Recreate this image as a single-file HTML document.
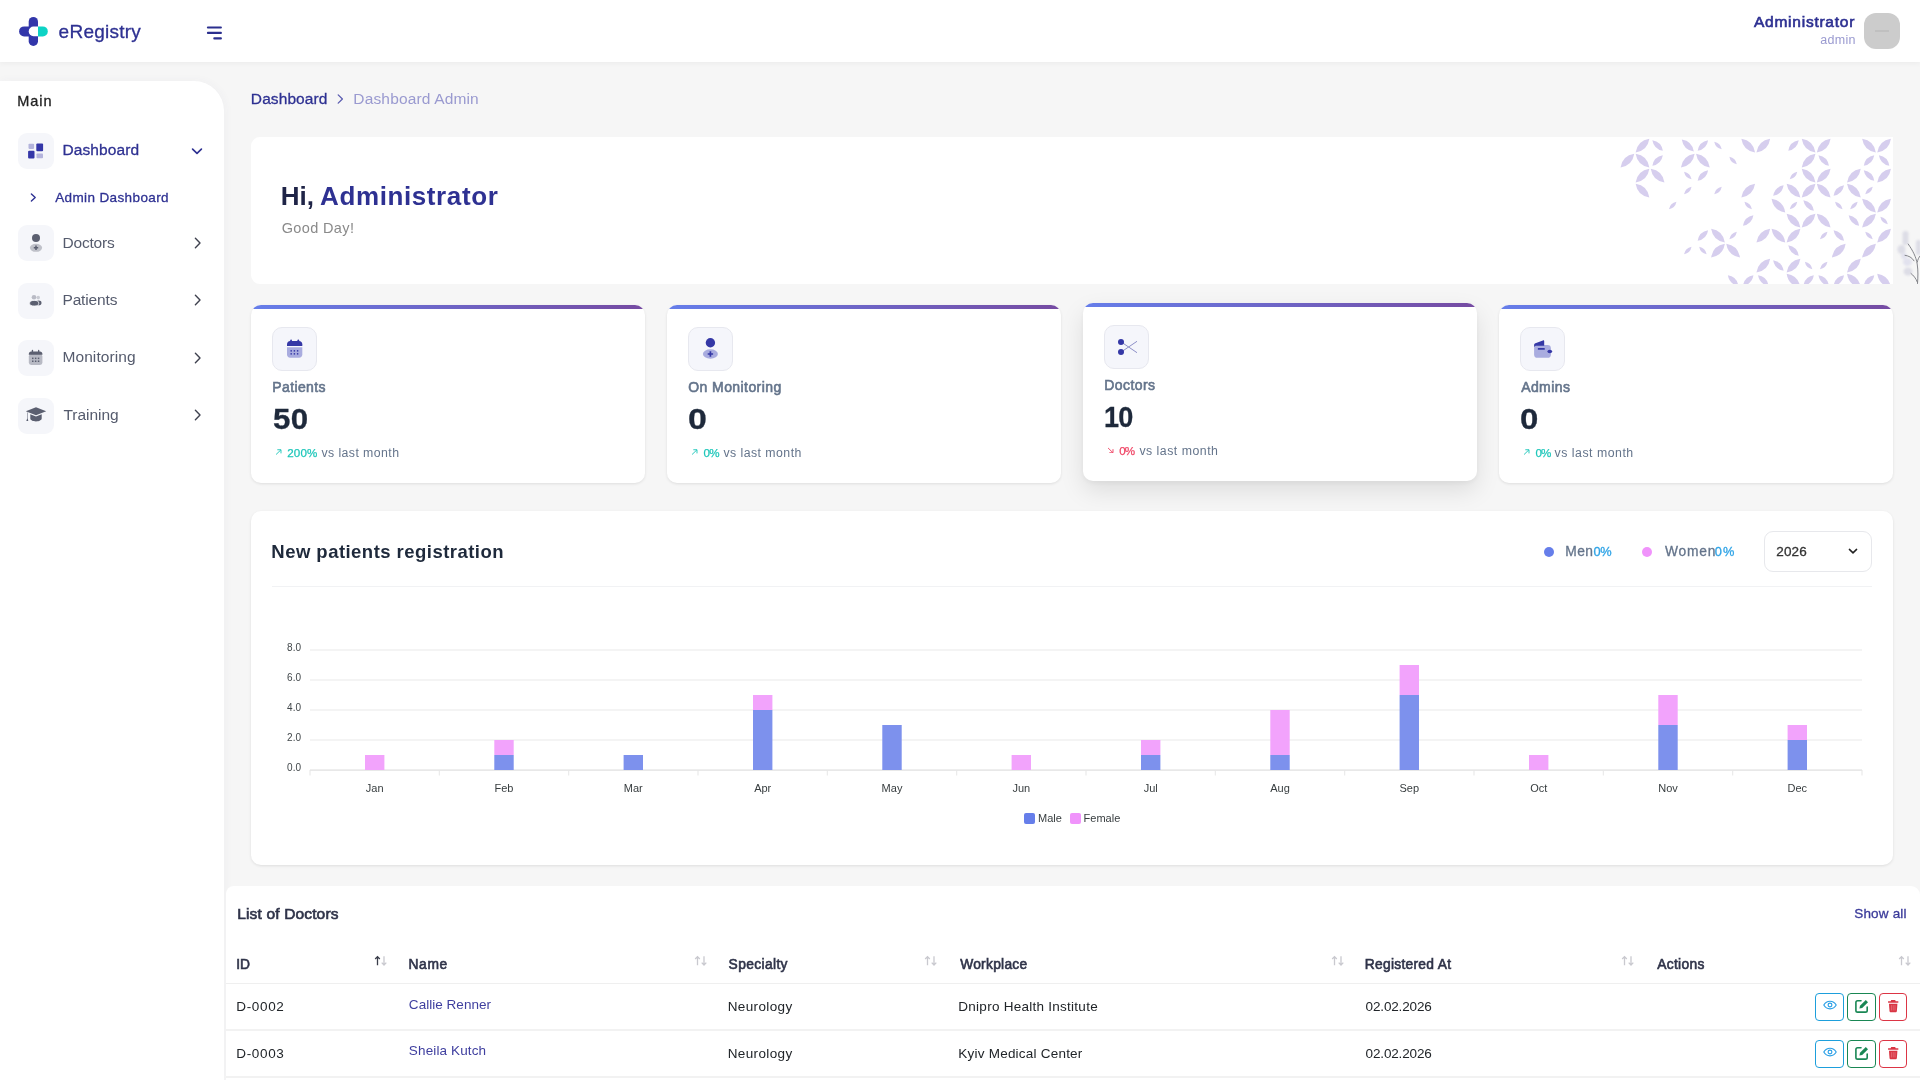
<!DOCTYPE html>
<html lang="en">
<head>
<meta charset="utf-8">
<title>eRegistry - Dashboard Admin</title>
<style>
*{box-sizing:border-box}
html,body{margin:0;padding:0}
html{width:1920px;height:1080px;overflow:hidden}
body{width:1920px;height:1080px;overflow:hidden;position:relative;will-change:transform;background:#f6f6f6;font-family:"Liberation Sans",sans-serif;color:#212529}
.abs{position:absolute}
.t{position:absolute;white-space:nowrap;line-height:1;margin:0;padding:0}
.b{font-weight:bold}
#hdr{left:0;top:0;width:1920px;height:62px;background:#fff;box-shadow:0 2px 5px rgba(0,0,0,.04)}
#side{left:0;top:81px;width:224px;height:999px;background:#fff;border-top-right-radius:30px;box-shadow:1px 0 10px rgba(60,60,110,.045)}
.ibox{position:absolute;left:18px;width:36px;height:36px;border-radius:9px;background:#f5f6fa}
.card{position:absolute;background:#fff;border-radius:10px;box-shadow:0 1px 3px rgba(0,0,0,.10)}
.stat{width:394px;height:178px;overflow:hidden}
.stat:before{content:"";position:absolute;left:0;top:0;right:0;height:4px;background:linear-gradient(90deg,#667eea,#764ba2)}
.sbox{position:absolute;left:21px;top:22px;width:45px;height:44px;border-radius:10px;background:#f5f6fb;border:1px solid #e7e8ef}
.btn{position:absolute;width:28px;height:28px;border-radius:4px;border:1px solid;background:#fff}
.hl{position:absolute;height:1px;background:#eeeeee}
</style>
</head>
<body>

<!-- ===== header ===== -->
<div id="hdr" class="abs"></div>
<svg class="abs" style="left:18px;top:16px" width="31" height="31" viewBox="18 16 31 31">
  <rect x="28.7" y="16.9" width="9.3" height="29" rx="4.65" fill="#3236aa"/>
  <rect x="19.1" y="26.4" width="18.9" height="10" rx="5" fill="#3236aa"/>
  <path d="M38 26.4h4.8a5 5 0 0 1 0 10H38z" fill="#0dd3c5"/>
  <path d="M38 26.6h-4.5a4.8 4.8 0 0 0 0 9.6H38z" fill="#fff"/>
</svg>
<svg class="abs" style="left:205px;top:24px" width="20" height="18" viewBox="205 24 20 18">
  <g stroke="#2b2f8e" stroke-width="2.1" stroke-linecap="round">
    <line x1="207.9" y1="27.5" x2="220.9" y2="27.5"/><line x1="207.9" y1="32.9" x2="220.9" y2="32.9"/><line x1="214.3" y1="38.4" x2="220.9" y2="38.4"/>
  </g>
</svg>
<div class="abs" style="left:1864px;top:13px;width:36px;height:36px;border-radius:12px;background:#cccccc"></div>
<div class="abs" style="left:1875px;top:30px;width:14px;height:2px;background:#c0c0c0"></div>

<!-- ===== sidebar ===== -->
<div id="side" class="abs"></div>
<div class="ibox" style="top:133px"></div>
<div class="ibox" style="top:225px"></div>
<div class="ibox" style="top:283px"></div>
<div class="ibox" style="top:340px"></div>
<div class="ibox" style="top:398px"></div>
<!-- dashboard icon -->
<svg class="abs" style="left:27px;top:142px" width="18" height="18" viewBox="0 0 18 18">
  <rect x="1.5" y="1.7" width="5.6" height="5.2" rx="0.8" fill="#b4b4dc"/>
  <rect x="9.3" y="1.5" width="6.8" height="7.8" rx="1" fill="#3537a8"/>
  <rect x="1.1" y="8.7" width="6.4" height="7.9" rx="1" fill="#3537a8"/>
  <rect x="9.5" y="11.5" width="6.5" height="4.7" rx="0.8" fill="#b4b4dc"/>
</svg>
<!-- doctors icon -->
<svg class="abs" style="left:27px;top:232px" width="18" height="22" viewBox="0 0 18 22">
  <circle cx="9" cy="6" r="4" fill="#5b5f70"/>
  <ellipse cx="9" cy="15.8" rx="6.1" ry="4" fill="#bfc1c9"/>
  <path d="M9 13.6v4.4M6.8 15.8h4.4" stroke="#5b5f70" stroke-width="1.5"/>
</svg>
<!-- patients icon -->
<svg class="abs" style="left:28px;top:293px" width="16" height="16" viewBox="0 0 16 16">
  <circle cx="6" cy="4.2" r="2.3" fill="#b9bbc5"/>
  <circle cx="10.2" cy="4.6" r="1.8" fill="#c9cbd3"/>
  <ellipse cx="10.6" cy="9.9" rx="2.9" ry="2.3" fill="#5b5f70"/>
  <ellipse cx="6.2" cy="10.2" rx="4.6" ry="2.8" fill="#5b5f70" stroke="#f5f6fa" stroke-width=".8"/>
</svg>
<!-- monitoring (calendar) icon -->
<svg class="abs" style="left:28px;top:349px" width="16" height="18" viewBox="0 0 16 18">
  <rect x="0.8" y="5" width="13.6" height="11" rx="2.4" fill="#b8bac4"/>
  <path d="M3.2 2.6h8.8c1.4 0 2.4 1 2.4 2.4v.7H.8V5c0-1.4 1-2.4 2.4-2.4z" fill="#5b5f70"/>
  <rect x="3.8" y="0.8" width="1.3" height="3" rx=".6" fill="#5b5f70"/><rect x="10" y="0.8" width="1.3" height="3" rx=".6" fill="#5b5f70"/>
  <g fill="#5b5f70"><rect x="4" y="8.6" width="1.5" height="1.5"/><rect x="6.9" y="8.6" width="1.5" height="1.5"/><rect x="9.8" y="8.6" width="1.5" height="1.5"/><rect x="4" y="11.5" width="1.5" height="1.5"/><rect x="6.9" y="11.5" width="1.5" height="1.5"/><rect x="9.8" y="11.5" width="1.5" height="1.5"/></g>
</svg>
<!-- training icon -->
<svg class="abs" style="left:25px;top:406px" width="22" height="17" viewBox="0 0 22 17">
  <path d="M11 1.2L21.2 5.2L11 9.2L.8 5.2z" fill="#5b5f70"/>
  <path d="M5.3 8.3v4.2c0 1.6 2.6 2.9 5.7 2.9s5.7-1.3 5.7-2.9V8.3L11 10.6z" fill="#5b5f70"/>
  <path d="M2.2 6.2v6.2l-.9 2.7h2l-.6-2.7V6.4z" fill="#5b5f70"/>
</svg>
<!-- chevrons -->
<svg class="abs" style="left:190px;top:146px" width="14" height="10" viewBox="0 0 14 10"><path d="M2.6 3.2L7 7.3l4.4-4.1" fill="none" stroke="#2e3192" stroke-width="1.7" stroke-linecap="round" stroke-linejoin="round"/></svg>
<svg class="abs" style="left:29px;top:192px" width="9" height="11" viewBox="0 0 9 11"><path d="M2.4 1.9L6.2 5.5 2.4 9.1" fill="none" stroke="#2e3192" stroke-width="1.4" stroke-linecap="round" stroke-linejoin="round"/></svg>
<svg class="abs" style="left:192px;top:236px" width="11" height="14" viewBox="0 0 11 14"><path d="M3.4 2.3L8 7 3.4 11.7" fill="none" stroke="#3f424f" stroke-width="1.4" stroke-linecap="round" stroke-linejoin="round"/></svg><svg class="abs" style="left:192px;top:293.2px" width="11" height="14" viewBox="0 0 11 14"><path d="M3.4 2.3L8 7 3.4 11.7" fill="none" stroke="#3f424f" stroke-width="1.4" stroke-linecap="round" stroke-linejoin="round"/></svg><svg class="abs" style="left:192px;top:351px" width="11" height="14" viewBox="0 0 11 14"><path d="M3.4 2.3L8 7 3.4 11.7" fill="none" stroke="#3f424f" stroke-width="1.4" stroke-linecap="round" stroke-linejoin="round"/></svg><svg class="abs" style="left:192px;top:408.2px" width="11" height="14" viewBox="0 0 11 14"><path d="M3.4 2.3L8 7 3.4 11.7" fill="none" stroke="#3f424f" stroke-width="1.4" stroke-linecap="round" stroke-linejoin="round"/></svg>

<!-- breadcrumb chevron -->
<svg class="abs" style="left:336px;top:93px" width="9" height="12" viewBox="0 0 9 12"><path d="M2.2 1.9L6.4 6 2.2 10.1" fill="none" stroke="#5a5cb0" stroke-width="1.3" stroke-linecap="round" stroke-linejoin="round"/></svg>

<!-- ===== welcome card ===== -->
<div class="abs" style="left:251px;top:137px;width:1642px;height:147px;background:#fff;border-radius:9px 0 0 9px;overflow:hidden">
<svg class="abs" style="left:0;top:0" width="1642" height="147" viewBox="251 137 1642 147">
<g fill="#d6ceee"><path transform="translate(1642.5 145.6) rotate(-45)" d="M-9.7 0Q0 -7.1 9.7 0Q0 7.1 -9.7 0z"/><path transform="translate(1657.6 145.6) rotate(45)" d="M-7.4 0Q0 -5.3 7.4 0Q0 5.3 -7.4 0z"/><path transform="translate(1687.8 145.6) rotate(45)" d="M-8.5 0Q0 -6.2 8.5 0Q0 6.2 -8.5 0z"/><path transform="translate(1702.9 145.6) rotate(-45)" d="M-7.4 0Q0 -5.3 7.4 0Q0 5.3 -7.4 0z"/><path transform="translate(1718 145.6) rotate(45)" d="M-5.3 0Q0 -3.6 5.3 0Q0 3.6 -5.3 0z"/><path transform="translate(1748.2 145.6) rotate(45)" d="M-9.7 0Q0 -7.1 9.7 0Q0 7.1 -9.7 0z"/><path transform="translate(1763.3 145.6) rotate(-45)" d="M-9.7 0Q0 -7.1 9.7 0Q0 7.1 -9.7 0z"/><path transform="translate(1793.5 145.6) rotate(-45)" d="M-7.4 0Q0 -5.3 7.4 0Q0 5.3 -7.4 0z"/><path transform="translate(1808.6 145.6) rotate(45)" d="M-9.7 0Q0 -7.1 9.7 0Q0 7.1 -9.7 0z"/><path transform="translate(1823.7 145.6) rotate(-45)" d="M-9.7 0Q0 -7.1 9.7 0Q0 7.1 -9.7 0z"/><path transform="translate(1869 145.6) rotate(45)" d="M-9.7 0Q0 -7.1 9.7 0Q0 7.1 -9.7 0z"/><path transform="translate(1884.1 145.6) rotate(-45)" d="M-9.7 0Q0 -7.1 9.7 0Q0 7.1 -9.7 0z"/><path transform="translate(1627.4 160.6) rotate(-45)" d="M-9.7 0Q0 -7.1 9.7 0Q0 7.1 -9.7 0z"/><path transform="translate(1642.5 160.6) rotate(45)" d="M-9.7 0Q0 -7.1 9.7 0Q0 7.1 -9.7 0z"/><path transform="translate(1657.6 160.6) rotate(-45)" d="M-7.4 0Q0 -5.3 7.4 0Q0 5.3 -7.4 0z"/><path transform="translate(1687.8 160.6) rotate(-45)" d="M-9.7 0Q0 -7.1 9.7 0Q0 7.1 -9.7 0z"/><path transform="translate(1702.9 160.6) rotate(45)" d="M-9.7 0Q0 -7.1 9.7 0Q0 7.1 -9.7 0z"/><path transform="translate(1733.1 160.6) rotate(45)" d="M-5.3 0Q0 -3.6 5.3 0Q0 3.6 -5.3 0z"/><path transform="translate(1808.6 160.6) rotate(-45)" d="M-9.7 0Q0 -7.1 9.7 0Q0 7.1 -9.7 0z"/><path transform="translate(1823.7 160.6) rotate(45)" d="M-7.4 0Q0 -5.3 7.4 0Q0 5.3 -7.4 0z"/><path transform="translate(1869 160.6) rotate(-45)" d="M-7.4 0Q0 -5.3 7.4 0Q0 5.3 -7.4 0z"/><path transform="translate(1884.1 160.6) rotate(45)" d="M-7.4 0Q0 -5.3 7.4 0Q0 5.3 -7.4 0z"/><path transform="translate(1642.5 175.6) rotate(-45)" d="M-9.7 0Q0 -7.1 9.7 0Q0 7.1 -9.7 0z"/><path transform="translate(1657.6 175.6) rotate(45)" d="M-9.7 0Q0 -7.1 9.7 0Q0 7.1 -9.7 0z"/><path transform="translate(1687.8 175.6) rotate(45)" d="M-5.3 0Q0 -3.6 5.3 0Q0 3.6 -5.3 0z"/><path transform="translate(1702.9 175.6) rotate(-45)" d="M-7.4 0Q0 -5.3 7.4 0Q0 5.3 -7.4 0z"/><path transform="translate(1793.5 175.6) rotate(-45)" d="M-5.3 0Q0 -3.6 5.3 0Q0 3.6 -5.3 0z"/><path transform="translate(1808.6 175.6) rotate(45)" d="M-9.7 0Q0 -7.1 9.7 0Q0 7.1 -9.7 0z"/><path transform="translate(1823.7 175.6) rotate(-45)" d="M-9.7 0Q0 -7.1 9.7 0Q0 7.1 -9.7 0z"/><path transform="translate(1853.9 175.6) rotate(-45)" d="M-9.7 0Q0 -7.1 9.7 0Q0 7.1 -9.7 0z"/><path transform="translate(1869 175.6) rotate(45)" d="M-7.4 0Q0 -5.3 7.4 0Q0 5.3 -7.4 0z"/><path transform="translate(1884.1 175.6) rotate(-45)" d="M-9.7 0Q0 -7.1 9.7 0Q0 7.1 -9.7 0z"/><path transform="translate(1642.5 190.6) rotate(45)" d="M-9.7 0Q0 -7.1 9.7 0Q0 7.1 -9.7 0z"/><path transform="translate(1687.8 190.6) rotate(-45)" d="M-5.3 0Q0 -3.6 5.3 0Q0 3.6 -5.3 0z"/><path transform="translate(1718 190.6) rotate(-45)" d="M-5.3 0Q0 -3.6 5.3 0Q0 3.6 -5.3 0z"/><path transform="translate(1748.2 190.6) rotate(-45)" d="M-9.7 0Q0 -7.1 9.7 0Q0 7.1 -9.7 0z"/><path transform="translate(1778.4 190.6) rotate(-45)" d="M-7.4 0Q0 -5.3 7.4 0Q0 5.3 -7.4 0z"/><path transform="translate(1793.5 190.6) rotate(45)" d="M-9.7 0Q0 -7.1 9.7 0Q0 7.1 -9.7 0z"/><path transform="translate(1808.6 190.6) rotate(-45)" d="M-9.7 0Q0 -7.1 9.7 0Q0 7.1 -9.7 0z"/><path transform="translate(1823.7 190.6) rotate(45)" d="M-9.7 0Q0 -7.1 9.7 0Q0 7.1 -9.7 0z"/><path transform="translate(1838.8 190.6) rotate(-45)" d="M-7.4 0Q0 -5.3 7.4 0Q0 5.3 -7.4 0z"/><path transform="translate(1853.9 190.6) rotate(45)" d="M-9.7 0Q0 -7.1 9.7 0Q0 7.1 -9.7 0z"/><path transform="translate(1869 190.6) rotate(-45)" d="M-5.3 0Q0 -3.6 5.3 0Q0 3.6 -5.3 0z"/><path transform="translate(1672.7 205.6) rotate(-45)" d="M-5.3 0Q0 -3.6 5.3 0Q0 3.6 -5.3 0z"/><path transform="translate(1748.2 205.6) rotate(45)" d="M-5.3 0Q0 -3.6 5.3 0Q0 3.6 -5.3 0z"/><path transform="translate(1778.4 205.6) rotate(45)" d="M-9.7 0Q0 -7.1 9.7 0Q0 7.1 -9.7 0z"/><path transform="translate(1793.5 205.6) rotate(-45)" d="M-5.3 0Q0 -3.6 5.3 0Q0 3.6 -5.3 0z"/><path transform="translate(1808.6 205.6) rotate(45)" d="M-7.4 0Q0 -5.3 7.4 0Q0 5.3 -7.4 0z"/><path transform="translate(1838.8 205.6) rotate(45)" d="M-5.3 0Q0 -3.6 5.3 0Q0 3.6 -5.3 0z"/><path transform="translate(1853.9 205.6) rotate(-45)" d="M-5.3 0Q0 -3.6 5.3 0Q0 3.6 -5.3 0z"/><path transform="translate(1869 205.6) rotate(45)" d="M-9.7 0Q0 -7.1 9.7 0Q0 7.1 -9.7 0z"/><path transform="translate(1884.1 205.6) rotate(-45)" d="M-9.7 0Q0 -7.1 9.7 0Q0 7.1 -9.7 0z"/><path transform="translate(1748.2 220.6) rotate(-45)" d="M-7.4 0Q0 -5.3 7.4 0Q0 5.3 -7.4 0z"/><path transform="translate(1793.5 220.6) rotate(45)" d="M-9.7 0Q0 -7.1 9.7 0Q0 7.1 -9.7 0z"/><path transform="translate(1808.6 220.6) rotate(-45)" d="M-9.7 0Q0 -7.1 9.7 0Q0 7.1 -9.7 0z"/><path transform="translate(1823.7 220.6) rotate(45)" d="M-9.7 0Q0 -7.1 9.7 0Q0 7.1 -9.7 0z"/><path transform="translate(1853.9 220.6) rotate(45)" d="M-7.4 0Q0 -5.3 7.4 0Q0 5.3 -7.4 0z"/><path transform="translate(1869 220.6) rotate(-45)" d="M-9.7 0Q0 -7.1 9.7 0Q0 7.1 -9.7 0z"/><path transform="translate(1884.1 220.6) rotate(45)" d="M-5.3 0Q0 -3.6 5.3 0Q0 3.6 -5.3 0z"/><path transform="translate(1702.9 235.6) rotate(-45)" d="M-7.4 0Q0 -5.3 7.4 0Q0 5.3 -7.4 0z"/><path transform="translate(1718 235.6) rotate(45)" d="M-9.7 0Q0 -7.1 9.7 0Q0 7.1 -9.7 0z"/><path transform="translate(1733.1 235.6) rotate(-45)" d="M-5.3 0Q0 -3.6 5.3 0Q0 3.6 -5.3 0z"/><path transform="translate(1763.3 235.6) rotate(-45)" d="M-9.7 0Q0 -7.1 9.7 0Q0 7.1 -9.7 0z"/><path transform="translate(1778.4 235.6) rotate(45)" d="M-9.7 0Q0 -7.1 9.7 0Q0 7.1 -9.7 0z"/><path transform="translate(1793.5 235.6) rotate(-45)" d="M-9.7 0Q0 -7.1 9.7 0Q0 7.1 -9.7 0z"/><path transform="translate(1823.7 235.6) rotate(-45)" d="M-5.3 0Q0 -3.6 5.3 0Q0 3.6 -5.3 0z"/><path transform="translate(1838.8 235.6) rotate(45)" d="M-7.4 0Q0 -5.3 7.4 0Q0 5.3 -7.4 0z"/><path transform="translate(1869 235.6) rotate(45)" d="M-5.3 0Q0 -3.6 5.3 0Q0 3.6 -5.3 0z"/><path transform="translate(1884.1 235.6) rotate(-45)" d="M-9.7 0Q0 -7.1 9.7 0Q0 7.1 -9.7 0z"/><path transform="translate(1687.8 250.6) rotate(-45)" d="M-5.3 0Q0 -3.6 5.3 0Q0 3.6 -5.3 0z"/><path transform="translate(1702.9 250.6) rotate(45)" d="M-5.3 0Q0 -3.6 5.3 0Q0 3.6 -5.3 0z"/><path transform="translate(1718 250.6) rotate(-45)" d="M-9.7 0Q0 -7.1 9.7 0Q0 7.1 -9.7 0z"/><path transform="translate(1733.1 250.6) rotate(45)" d="M-9.7 0Q0 -7.1 9.7 0Q0 7.1 -9.7 0z"/><path transform="translate(1793.5 250.6) rotate(45)" d="M-7.4 0Q0 -5.3 7.4 0Q0 5.3 -7.4 0z"/><path transform="translate(1838.8 250.6) rotate(-45)" d="M-9.7 0Q0 -7.1 9.7 0Q0 7.1 -9.7 0z"/><path transform="translate(1869 250.6) rotate(-45)" d="M-9.7 0Q0 -7.1 9.7 0Q0 7.1 -9.7 0z"/><path transform="translate(1763.3 265.6) rotate(-45)" d="M-9.7 0Q0 -7.1 9.7 0Q0 7.1 -9.7 0z"/><path transform="translate(1778.4 265.6) rotate(45)" d="M-7.4 0Q0 -5.3 7.4 0Q0 5.3 -7.4 0z"/><path transform="translate(1793.5 265.6) rotate(-45)" d="M-9.7 0Q0 -7.1 9.7 0Q0 7.1 -9.7 0z"/><path transform="translate(1808.6 265.6) rotate(45)" d="M-5.3 0Q0 -3.6 5.3 0Q0 3.6 -5.3 0z"/><path transform="translate(1823.7 265.6) rotate(-45)" d="M-5.3 0Q0 -3.6 5.3 0Q0 3.6 -5.3 0z"/><path transform="translate(1853.9 265.6) rotate(-45)" d="M-9.7 0Q0 -7.1 9.7 0Q0 7.1 -9.7 0z"/><path transform="translate(1733.1 280.6) rotate(45)" d="M-7.4 0Q0 -5.3 7.4 0Q0 5.3 -7.4 0z"/><path transform="translate(1748.2 280.6) rotate(-45)" d="M-7.4 0Q0 -5.3 7.4 0Q0 5.3 -7.4 0z"/><path transform="translate(1763.3 280.6) rotate(45)" d="M-7.4 0Q0 -5.3 7.4 0Q0 5.3 -7.4 0z"/><path transform="translate(1793.5 280.6) rotate(45)" d="M-9.7 0Q0 -7.1 9.7 0Q0 7.1 -9.7 0z"/><path transform="translate(1808.6 280.6) rotate(-45)" d="M-7.4 0Q0 -5.3 7.4 0Q0 5.3 -7.4 0z"/><path transform="translate(1823.7 280.6) rotate(45)" d="M-7.4 0Q0 -5.3 7.4 0Q0 5.3 -7.4 0z"/><path transform="translate(1838.8 280.6) rotate(-45)" d="M-7.4 0Q0 -5.3 7.4 0Q0 5.3 -7.4 0z"/><path transform="translate(1853.9 280.6) rotate(45)" d="M-9.7 0Q0 -7.1 9.7 0Q0 7.1 -9.7 0z"/><path transform="translate(1869 280.6) rotate(-45)" d="M-7.4 0Q0 -5.3 7.4 0Q0 5.3 -7.4 0z"/><path transform="translate(1884.1 280.6) rotate(45)" d="M-9.7 0Q0 -7.1 9.7 0Q0 7.1 -9.7 0z"/></g>
</svg>
</div>
<!-- plant -->
<svg class="abs" style="left:1894px;top:226px" width="26" height="62" viewBox="1894 226 26 62">
  <defs><filter id="bl" x="-30%" y="-30%" width="160%" height="160%"><feGaussianBlur stdDeviation="1.1"/></filter></defs>
  <g fill="#dddde6" filter="url(#bl)"><rect x="1902.5" y="231" width="6" height="14" rx="2.5"/><rect x="1916" y="240" width="5" height="15" rx="2"/><ellipse cx="1901.5" cy="249.5" rx="4" ry="4.5"/><ellipse cx="1907.5" cy="262" rx="4.5" ry="4" fill="#e2e2ee"/><ellipse cx="1908" cy="271.5" rx="4.5" ry="4"/><ellipse cx="1904" cy="256" rx="3" ry="3" fill="#e2e2ee"/></g>
  <path d="M1908.2 244c4.5 6.5 8 13 9 20s.8 13 .3 19.5M1905 255.3c3.5.5 7 2 9 5.5M1911 273.5c2.5 1.8 5 5 6.3 8.5M1917.3 262c.5-2.5 1.5-4.5 2.7-6" fill="none" stroke="#77787f" stroke-width=".9" stroke-linecap="round"/>
</svg>

<!-- ===== stat cards ===== -->
<div class="card stat" style="left:251px;top:305px"><div class="sbox"></div></div>
<div class="card stat" style="left:667px;top:305px"><div class="sbox"></div></div>
<div class="card stat" style="left:1083px;top:303px;box-shadow:0 10px 24px rgba(0,0,0,.10),0 2px 6px rgba(0,0,0,.05)"><div class="sbox"></div></div>
<div class="card stat" style="left:1499px;top:305px"><div class="sbox"></div></div>
<!-- stat icons -->
<svg class="abs" style="left:285px;top:338px" width="19" height="21" viewBox="285 338 19 21">
  <path d="M287 347.2h15.3v7.4c0 1.9-1.3 3.2-3.2 3.2h-8.9c-1.9 0-3.2-1.3-3.2-3.2z" fill="#a9acdf"/>
  <path d="M290.2 341h8.9c1.9 0 3.2 1.3 3.2 3.2v1.7H287v-1.7c0-1.9 1.3-3.2 3.2-3.2z" fill="#3538a6"/>
  <rect x="290.3" y="339.6" width="1.6" height="3" rx=".7" fill="#3538a6"/><rect x="297.5" y="339.6" width="1.6" height="3" rx=".7" fill="#3538a6"/>
  <g fill="#3538a6"><rect x="290.5" y="350.1" width="1.4" height="1.5"/><rect x="293.7" y="350.1" width="1.4" height="1.5"/><rect x="296.9" y="350.1" width="1.4" height="1.5"/><rect x="290.5" y="353.1" width="1.4" height="1.5"/><rect x="293.7" y="353.1" width="1.4" height="1.5"/><rect x="296.9" y="353.1" width="1.4" height="1.5"/></g>
</svg>
<svg class="abs" style="left:700px;top:336px" width="21" height="25" viewBox="0 0 21 25">
  <circle cx="10.4" cy="6.8" r="4.7" fill="#3538a6"/>
  <ellipse cx="10.4" cy="18" rx="7.5" ry="4.7" fill="#a9acdf"/>
  <path d="M10.4 15.3v5.4M7.7 18h5.4" stroke="#3538a6" stroke-width="1.7"/>
</svg>
<svg class="abs" style="left:1116px;top:336px" width="24" height="22" viewBox="0 0 24 22">
  <path d="M5.5 6.2L21 16.7M5.5 15.8L21 5.3" stroke="#8e90c8" stroke-width="1"/>
  <circle cx="5" cy="5.9" r="3" fill="#3538a6"/><circle cx="5" cy="16" r="3" fill="#3538a6"/>
</svg>
<svg class="abs" style="left:1532px;top:338px" width="22" height="22" viewBox="0 0 22 22">
  <rect x="2.1" y="7" width="16.8" height="12.8" rx="3.4" fill="#a9acdf"/>
  <path d="M2.1 9.4V7.2c0-1 .5-1.7 1.3-2l7.5-2.8c.7-.3 1.3.2 1.3.9v4.5H4.6c-1.3 0-2.2.7-2.5 1.6z" fill="#3538a6"/>
  <rect x="5.8" y="10" width="7" height="1.7" rx=".5" fill="#3538a6"/>
  <ellipse cx="17.8" cy="13.5" rx="2.4" ry="1.8" fill="#3538a6"/>
</svg>
<!-- trend arrows -->
<svg class="abs" style="left:274.6px;top:448.6px" width="7.4" height="6.6" viewBox="0 0 9 8"><path d="M1.3 6.7L7.2 1M2.8 .9h4.5v4.4" fill="none" stroke="#1fc7ba" stroke-width="1.15"/></svg>
<svg class="abs" style="left:690.6px;top:448.6px" width="7.4" height="6.6" viewBox="0 0 9 8"><path d="M1.3 6.7L7.2 1M2.8 .9h4.5v4.4" fill="none" stroke="#1fc7ba" stroke-width="1.15"/></svg>
<svg class="abs" style="left:1106.6px;top:446.6px" width="7.4" height="6.6" viewBox="0 0 9 8"><path d="M1.3 1.2L7.2 6.9M2.8 7h4.5V2.6" fill="none" stroke="#ef4565" stroke-width="1.15"/></svg>
<svg class="abs" style="left:1522.6px;top:448.6px" width="7.4" height="6.6" viewBox="0 0 9 8"><path d="M1.3 6.7L7.2 1M2.8 .9h4.5v4.4" fill="none" stroke="#1fc7ba" stroke-width="1.15"/></svg>

<!-- ===== chart card ===== -->
<div class="card" style="left:251px;top:511px;width:1642px;height:354px"></div>
<div class="hl" style="left:272px;top:586px;width:1600px;background:#f1f2f4"></div>
<div class="abs" style="left:1544px;top:547px;width:10px;height:10px;border-radius:50%;background:#667eea"></div>
<div class="abs" style="left:1642px;top:547px;width:10px;height:10px;border-radius:50%;background:#f093fb"></div>
<div class="abs" style="left:1764px;top:531px;width:108px;height:41px;border-radius:9px;border:1px solid #e7e8ec;background:#fff"></div>
<svg class="abs" style="left:1847px;top:547px" width="12" height="9" viewBox="0 0 12 9"><path d="M2.4 2.4L6 5.9l3.6-3.5" fill="none" stroke="#222" stroke-width="1.5" stroke-linecap="round" stroke-linejoin="round"/></svg>
<svg class="abs" style="left:0;top:600px" width="1920" height="260" viewBox="0 600 1920 260" font-family="Liberation Sans, sans-serif"><rect x="310" y="649.5" width="1552" height="1" fill="#e9e9e9"/><rect x="310" y="679.5" width="1552" height="1" fill="#e9e9e9"/><rect x="310" y="709.5" width="1552" height="1" fill="#e9e9e9"/><rect x="310" y="739.5" width="1552" height="1" fill="#e9e9e9"/><rect x="310" y="769.5" width="1552" height="1.2" fill="#dedede"/><rect x="309.5" y="770" width="1" height="5.5" fill="#e6e6e6"/><rect x="438.8" y="770" width="1" height="5.5" fill="#e6e6e6"/><rect x="568.2" y="770" width="1" height="5.5" fill="#e6e6e6"/><rect x="697.5" y="770" width="1" height="5.5" fill="#e6e6e6"/><rect x="826.8" y="770" width="1" height="5.5" fill="#e6e6e6"/><rect x="956.2" y="770" width="1" height="5.5" fill="#e6e6e6"/><rect x="1085.5" y="770" width="1" height="5.5" fill="#e6e6e6"/><rect x="1214.8" y="770" width="1" height="5.5" fill="#e6e6e6"/><rect x="1344.2" y="770" width="1" height="5.5" fill="#e6e6e6"/><rect x="1473.5" y="770" width="1" height="5.5" fill="#e6e6e6"/><rect x="1602.8" y="770" width="1" height="5.5" fill="#e6e6e6"/><rect x="1732.2" y="770" width="1" height="5.5" fill="#e6e6e6"/><rect x="1861.5" y="770" width="1" height="5.5" fill="#e6e6e6"/><rect x="365" y="755" width="19.4" height="15" fill="#f2a3fc"/><text x="374.7" y="792" text-anchor="middle" font-size="11" fill="#373d3f">Jan</text><rect x="494.3" y="755" width="19.4" height="15" fill="#7d91ed"/><rect x="494.3" y="740" width="19.4" height="15" fill="#f2a3fc"/><text x="504.0" y="792" text-anchor="middle" font-size="11" fill="#373d3f">Feb</text><rect x="623.6" y="755" width="19.4" height="15" fill="#7d91ed"/><text x="633.3" y="792" text-anchor="middle" font-size="11" fill="#373d3f">Mar</text><rect x="753" y="710" width="19.4" height="60" fill="#7d91ed"/><rect x="753" y="695" width="19.4" height="15" fill="#f2a3fc"/><text x="762.7" y="792" text-anchor="middle" font-size="11" fill="#373d3f">Apr</text><rect x="882.3" y="725" width="19.4" height="45" fill="#7d91ed"/><text x="892.0" y="792" text-anchor="middle" font-size="11" fill="#373d3f">May</text><rect x="1011.6" y="755" width="19.4" height="15" fill="#f2a3fc"/><text x="1021.3" y="792" text-anchor="middle" font-size="11" fill="#373d3f">Jun</text><rect x="1141" y="755" width="19.4" height="15" fill="#7d91ed"/><rect x="1141" y="740" width="19.4" height="15" fill="#f2a3fc"/><text x="1150.7" y="792" text-anchor="middle" font-size="11" fill="#373d3f">Jul</text><rect x="1270.3" y="755" width="19.4" height="15" fill="#7d91ed"/><rect x="1270.3" y="710" width="19.4" height="45" fill="#f2a3fc"/><text x="1280.0" y="792" text-anchor="middle" font-size="11" fill="#373d3f">Aug</text><rect x="1399.6" y="695" width="19.4" height="75" fill="#7d91ed"/><rect x="1399.6" y="665" width="19.4" height="30" fill="#f2a3fc"/><text x="1409.3" y="792" text-anchor="middle" font-size="11" fill="#373d3f">Sep</text><rect x="1529" y="755" width="19.4" height="15" fill="#f2a3fc"/><text x="1538.7" y="792" text-anchor="middle" font-size="11" fill="#373d3f">Oct</text><rect x="1658.3" y="725" width="19.4" height="45" fill="#7d91ed"/><rect x="1658.3" y="695" width="19.4" height="30" fill="#f2a3fc"/><text x="1668.0" y="792" text-anchor="middle" font-size="11" fill="#373d3f">Nov</text><rect x="1787.6" y="740" width="19.4" height="30" fill="#7d91ed"/><rect x="1787.6" y="725" width="19.4" height="15" fill="#f2a3fc"/><text x="1797.3" y="792" text-anchor="middle" font-size="11" fill="#373d3f">Dec</text><text x="301" y="771.2" text-anchor="end" font-size="10" fill="#41474a">0.0</text><text x="301" y="741.2" text-anchor="end" font-size="10" fill="#41474a">2.0</text><text x="301" y="711.2" text-anchor="end" font-size="10" fill="#41474a">4.0</text><text x="301" y="681.2" text-anchor="end" font-size="10" fill="#41474a">6.0</text><text x="301" y="651.2" text-anchor="end" font-size="10" fill="#41474a">8.0</text><rect x="1024" y="813" width="11" height="11" rx="2" fill="#667eea"/><text x="1038" y="821.8" font-size="11" fill="#373d3f">Male</text><rect x="1070" y="813" width="11" height="11" rx="2" fill="#f093fb"/><text x="1083.600" y="821.8" font-size="11" fill="#373d3f">Female</text></svg>

<!-- ===== table card ===== -->
<div class="abs" style="left:226px;top:886px;width:1694px;height:194px;background:#fff;border-radius:8px 9px 0 0"></div>
<div class="hl" style="left:226px;top:983px;width:1694px;background:#efefef"></div>
<div class="hl" style="left:226px;top:1029.2px;width:1694px;height:1.4px;background:#f2f2f2"></div>
<div class="hl" style="left:226px;top:1076.2px;width:1694px;height:1.4px;background:#f2f2f2"></div>
<svg class="abs" style="left:373px;top:955px" width="15" height="12" viewBox="0 0 15 12" fill="none" stroke-width="1.3"><path d="M4.5 10.3V1.8M2.2 4L4.5 1.6 6.8 4" stroke="#3a3d4a"/><path d="M11 1.3V9.8M8.7 7.6L11 10 13.3 7.6" stroke="#c9c9cf"/></svg><svg class="abs" style="left:692.5px;top:955px" width="15" height="12" viewBox="0 0 15 12" fill="none" stroke-width="1.3"><path d="M4.5 10.3V1.8M2.2 4L4.5 1.6 6.8 4" stroke="#c9c9cf"/><path d="M11 1.3V9.8M8.7 7.6L11 10 13.3 7.6" stroke="#c9c9cf"/></svg><svg class="abs" style="left:923px;top:955px" width="15" height="12" viewBox="0 0 15 12" fill="none" stroke-width="1.3"><path d="M4.5 10.3V1.8M2.2 4L4.5 1.6 6.8 4" stroke="#c9c9cf"/><path d="M11 1.3V9.8M8.7 7.6L11 10 13.3 7.6" stroke="#c9c9cf"/></svg><svg class="abs" style="left:1330px;top:955px" width="15" height="12" viewBox="0 0 15 12" fill="none" stroke-width="1.3"><path d="M4.5 10.3V1.8M2.2 4L4.5 1.6 6.8 4" stroke="#c9c9cf"/><path d="M11 1.3V9.8M8.7 7.6L11 10 13.3 7.6" stroke="#c9c9cf"/></svg><svg class="abs" style="left:1620px;top:955px" width="15" height="12" viewBox="0 0 15 12" fill="none" stroke-width="1.3"><path d="M4.5 10.3V1.8M2.2 4L4.5 1.6 6.8 4" stroke="#c9c9cf"/><path d="M11 1.3V9.8M8.7 7.6L11 10 13.3 7.6" stroke="#c9c9cf"/></svg><svg class="abs" style="left:1897px;top:955px" width="15" height="12" viewBox="0 0 15 12" fill="none" stroke-width="1.3"><path d="M4.5 10.3V1.8M2.2 4L4.5 1.6 6.8 4" stroke="#c9c9cf"/><path d="M11 1.3V9.8M8.7 7.6L11 10 13.3 7.6" stroke="#c9c9cf"/></svg>
<div class="btn" style="left:1815px;top:993px;width:29px;border-color:#1d9fdc"><svg width="16" height="12" viewBox="0 0 16 12" style="position:absolute;left:5.5px;top:5.4px"><path d="M1.8 6C3.2 3.5 5.4 2.2 8 2.2s4.8 1.3 6.2 3.8C12.8 8.5 10.6 9.8 8 9.8S3.2 8.5 1.8 6z" fill="none" stroke="#2a9fe6" stroke-width="1.15"/><circle cx="8" cy="6" r="1.9" fill="none" stroke="#2a9fe6" stroke-width="1.15"/></svg></div><div class="btn" style="left:1847px;top:993px;width:29px;border-color:#198754"><svg width="16" height="16" viewBox="0 0 16 16" style="position:absolute;left:6px;top:3.7px"><path d="M7 2.8H3.6c-1 0-1.7.7-1.7 1.7v7.9c0 1 .7 1.7 1.7 1.7h7.9c1 0 1.7-.7 1.7-1.7V9" fill="none" stroke="#198754" stroke-width="1.6" stroke-linecap="round"/><path d="M6 7.8L11.8 2l2.2 2.2L8.2 10l-2.8.6z" fill="#198754"/></svg></div><div class="btn" style="left:1879px;top:993px;width:28px;border-color:#dc3545"><svg width="14.4" height="14.4" viewBox="0 0 16 16" style="position:absolute;left:6.3px;top:5.3px"><path d="M5.8 1.2h4.4l.6 1.2h2.9v1.7H2.3V2.4h2.9z" fill="#d93644"/><path d="M3.3 5.2h9.4l-.6 8.2c-.1.9-.7 1.4-1.5 1.4H5.4c-.8 0-1.4-.5-1.5-1.4z" fill="#d93644"/><path d="M6 6.8v6M8 6.8v6M10 6.8v6" stroke="#ee9aa1" stroke-width=".55"/></svg></div><div class="btn" style="left:1815px;top:1040px;width:29px;border-color:#1d9fdc"><svg width="16" height="12" viewBox="0 0 16 12" style="position:absolute;left:5.5px;top:5.4px"><path d="M1.8 6C3.2 3.5 5.4 2.2 8 2.2s4.8 1.3 6.2 3.8C12.8 8.5 10.6 9.8 8 9.8S3.2 8.5 1.8 6z" fill="none" stroke="#2a9fe6" stroke-width="1.15"/><circle cx="8" cy="6" r="1.9" fill="none" stroke="#2a9fe6" stroke-width="1.15"/></svg></div><div class="btn" style="left:1847px;top:1040px;width:29px;border-color:#198754"><svg width="16" height="16" viewBox="0 0 16 16" style="position:absolute;left:6px;top:3.7px"><path d="M7 2.8H3.6c-1 0-1.7.7-1.7 1.7v7.9c0 1 .7 1.7 1.7 1.7h7.9c1 0 1.7-.7 1.7-1.7V9" fill="none" stroke="#198754" stroke-width="1.6" stroke-linecap="round"/><path d="M6 7.8L11.8 2l2.2 2.2L8.2 10l-2.8.6z" fill="#198754"/></svg></div><div class="btn" style="left:1879px;top:1040px;width:28px;border-color:#dc3545"><svg width="14.4" height="14.4" viewBox="0 0 16 16" style="position:absolute;left:6.3px;top:5.3px"><path d="M5.8 1.2h4.4l.6 1.2h2.9v1.7H2.3V2.4h2.9z" fill="#d93644"/><path d="M3.3 5.2h9.4l-.6 8.2c-.1.9-.7 1.4-1.5 1.4H5.4c-.8 0-1.4-.5-1.5-1.4z" fill="#d93644"/><path d="M6 6.8v6M8 6.8v6M10 6.8v6" stroke="#ee9aa1" stroke-width=".55"/></svg></div>

<span class="t" style="left:58.62px;top:22.40px;font-size:19px;color:#2e3192;letter-spacing:0.248px;-webkit-text-stroke:0.3px #2e3192">eRegistry</span>
<span class="t" style="left:1754.00px;top:13.88px;font-size:15.5px;color:#2e3192;letter-spacing:0.750px;-webkit-text-stroke:0.65px #2e3192">Administrator</span>
<span class="t" style="left:1820.24px;top:34.40px;font-size:12.5px;color:#9a9ad0;letter-spacing:0.315px">admin</span>
<span class="t" style="left:17.34px;top:93.73px;font-size:14.5px;color:#222222;letter-spacing:0.900px;-webkit-text-stroke:0.3px #222222">Main</span>
<span class="t" style="left:62.48px;top:141.88px;font-size:15.5px;color:#2e3192;letter-spacing:0.090px;-webkit-text-stroke:0.3px #2e3192">Dashboard</span>
<span class="t" style="left:55.14px;top:190.57px;font-size:13.5px;color:#2e3192;letter-spacing:0.386px;-webkit-text-stroke:0.3px #2e3192">Admin Dashboard</span>
<span class="t" style="left:62.48px;top:235.40px;font-size:15.5px;color:#555b6d;letter-spacing:-0.180px">Doctors</span>
<span class="t" style="left:62.48px;top:291.58px;font-size:15.5px;color:#555b6d;letter-spacing:-0.154px">Patients</span>
<span class="t" style="left:62.48px;top:348.88px;font-size:15.5px;color:#555b6d;letter-spacing:0.080px">Monitoring</span>
<span class="t" style="left:63.38px;top:406.88px;font-size:15.5px;color:#555b6d;letter-spacing:-0.026px">Training</span>
<span class="t" style="left:250.86px;top:91.38px;font-size:15.5px;color:#2e3192;letter-spacing:0.090px;-webkit-text-stroke:0.3px #2e3192">Dashboard</span>
<span class="t" style="left:353.34px;top:91.38px;font-size:15.5px;color:#9a9ad0;letter-spacing:0.154px">Dashboard Admin</span>
<span class="t b" style="left:280.82px;top:182.99px;font-size:26px;color:#1f2447;letter-spacing:0.000px">Hi,</span>
<span class="t b" style="left:320.10px;top:182.99px;font-size:26px;color:#2e3192;letter-spacing:0.600px">Administrator</span>
<span class="t" style="left:281.72px;top:220.73px;font-size:14.5px;color:#8a8a8a;letter-spacing:0.360px">Good Day!</span>
<span class="t" style="left:272.24px;top:380.15px;font-size:14px;color:#64748b;letter-spacing:0.386px;-webkit-text-stroke:0.6px #64748b">Patients</span>
<span class="t" style="left:688.24px;top:380.15px;font-size:14px;color:#64748b;letter-spacing:0.420px;-webkit-text-stroke:0.6px #64748b">On Monitoring</span>
<span class="t" style="left:1104.24px;top:378.15px;font-size:14px;color:#64748b;letter-spacing:0.420px;-webkit-text-stroke:0.6px #64748b">Doctors</span>
<span class="t" style="left:1521.14px;top:380.15px;font-size:14px;color:#64748b;letter-spacing:0.432px;-webkit-text-stroke:0.6px #64748b">Admins</span>
<span class="t b" style="left:273.48px;top:404.85px;font-size:29px;color:#1e293b;letter-spacing:0.370px;-webkit-text-stroke:0.3px #1e293b;transform:scaleX(1.078);transform-origin:0 0">50</span>
<span class="t b" style="left:688.34px;top:404.85px;font-size:29px;color:#1e293b;letter-spacing:0.000px;-webkit-text-stroke:0.3px #1e293b;transform:scaleX(1.170);transform-origin:0 0">0</span>
<span class="t b" style="left:1104.48px;top:402.85px;font-size:29px;color:#1e293b;letter-spacing:-0.900px;-webkit-text-stroke:0.3px #1e293b;transform:scaleX(0.933);transform-origin:0 0">10</span>
<span class="t b" style="left:1520.34px;top:404.85px;font-size:29px;color:#1e293b;letter-spacing:0.000px;-webkit-text-stroke:0.3px #1e293b;transform:scaleX(1.136);transform-origin:0 0">0</span>
<span class="t" style="left:287.24px;top:447.18px;font-size:11.6px;color:#1fc7ba;letter-spacing:0.180px;-webkit-text-stroke:0.25px #1fc7ba">200%</span>
<span class="t" style="left:321.38px;top:446.59px;font-size:12.3px;color:#64748b;letter-spacing:0.435px">vs last month</span>
<span class="t" style="left:703.62px;top:447.18px;font-size:11.6px;color:#1fc7ba;letter-spacing:-0.900px;-webkit-text-stroke:0.25px #1fc7ba">0%</span>
<span class="t" style="left:723.38px;top:446.59px;font-size:12.3px;color:#64748b;letter-spacing:0.465px">vs last month</span>
<span class="t" style="left:1119.24px;top:445.18px;font-size:11.6px;color:#ef4565;letter-spacing:-0.900px;-webkit-text-stroke:0.25px #ef4565">0%</span>
<span class="t" style="left:1139.38px;top:444.59px;font-size:12.3px;color:#64748b;letter-spacing:0.510px">vs last month</span>
<span class="t" style="left:1535.38px;top:447.18px;font-size:11.6px;color:#1fc7ba;letter-spacing:-0.900px;-webkit-text-stroke:0.25px #1fc7ba">0%</span>
<span class="t" style="left:1554.62px;top:446.59px;font-size:12.3px;color:#64748b;letter-spacing:0.510px">vs last month</span>
<span class="t b" style="left:271.34px;top:543.40px;font-size:18.5px;color:#1e293b;letter-spacing:0.465px">New patients registration</span>
<span class="t" style="left:1565.24px;top:544.52px;font-size:13.8px;color:#64748b;letter-spacing:0.450px;-webkit-text-stroke:0.3px #64748b">Men</span>
<span class="t" style="left:1593.38px;top:546.40px;font-size:12.8px;color:#2ea3e6;letter-spacing:-0.180px;-webkit-text-stroke:0.3px #2ea3e6">0%</span>
<span class="t" style="left:1665.00px;top:544.52px;font-size:13.8px;color:#64748b;letter-spacing:0.810px;-webkit-text-stroke:0.3px #64748b">Women</span>
<span class="t" style="left:1714.86px;top:546.40px;font-size:12.8px;color:#2ea3e6;letter-spacing:0.900px;-webkit-text-stroke:0.3px #2ea3e6">0%</span>
<span class="t" style="left:1776.24px;top:544.77px;font-size:13.5px;color:#333333;letter-spacing:0.180px;-webkit-text-stroke:0.3px #333333">2026</span>
<span class="t" style="left:237.24px;top:906.08px;font-size:15.5px;color:#2f3349;letter-spacing:0.154px;-webkit-text-stroke:0.65px #2f3349">List of Doctors</span>
<span class="t" style="left:1854.24px;top:906.77px;font-size:13.5px;color:#3a3a9a;letter-spacing:0.180px;-webkit-text-stroke:0.3px #3a3a9a">Show all</span>
<span class="t" style="left:236.34px;top:957.52px;font-size:13.8px;color:#2f3349;letter-spacing:-0.090px;-webkit-text-stroke:0.6px #2f3349">ID</span>
<span class="t" style="left:408.48px;top:957.52px;font-size:13.8px;color:#2f3349;letter-spacing:0.660px;-webkit-text-stroke:0.6px #2f3349">Name</span>
<span class="t" style="left:728.62px;top:957.52px;font-size:13.8px;color:#2f3349;letter-spacing:0.360px;-webkit-text-stroke:0.6px #2f3349">Specialty</span>
<span class="t" style="left:960.14px;top:957.52px;font-size:13.8px;color:#2f3349;letter-spacing:0.270px;-webkit-text-stroke:0.6px #2f3349">Workplace</span>
<span class="t" style="left:1364.72px;top:957.52px;font-size:13.8px;color:#2f3349;letter-spacing:0.285px;-webkit-text-stroke:0.6px #2f3349">Registered At</span>
<span class="t" style="left:1657.14px;top:957.52px;font-size:13.8px;color:#2f3349;letter-spacing:0.330px;-webkit-text-stroke:0.6px #2f3349">Actions</span>
<span class="t" style="left:236.34px;top:999.77px;font-size:13.5px;color:#212529;letter-spacing:0.648px">D-0002</span>
<span class="t" style="left:408.86px;top:997.97px;font-size:13.5px;color:#3f3f9f;letter-spacing:0.030px">Callie Renner</span>
<span class="t" style="left:727.72px;top:999.77px;font-size:13.5px;color:#212529;letter-spacing:0.360px">Neurology</span>
<span class="t" style="left:958.34px;top:999.77px;font-size:13.5px;color:#212529;letter-spacing:0.262px">Dnipro Health Institute</span>
<span class="t" style="left:1365.62px;top:999.77px;font-size:13.5px;color:#212529;letter-spacing:-0.160px">02.02.2026</span>
<span class="t" style="left:236.34px;top:1046.57px;font-size:13.5px;color:#212529;letter-spacing:0.648px">D-0003</span>
<span class="t" style="left:408.86px;top:1043.77px;font-size:13.5px;color:#3f3f9f;letter-spacing:0.131px">Sheila Kutch</span>
<span class="t" style="left:727.72px;top:1046.57px;font-size:13.5px;color:#212529;letter-spacing:0.360px">Neurology</span>
<span class="t" style="left:958.34px;top:1046.57px;font-size:13.5px;color:#212529;letter-spacing:0.220px">Kyiv Medical Center</span>
<span class="t" style="left:1365.62px;top:1046.57px;font-size:13.5px;color:#212529;letter-spacing:-0.160px">02.02.2026</span>
</body>
</html>
